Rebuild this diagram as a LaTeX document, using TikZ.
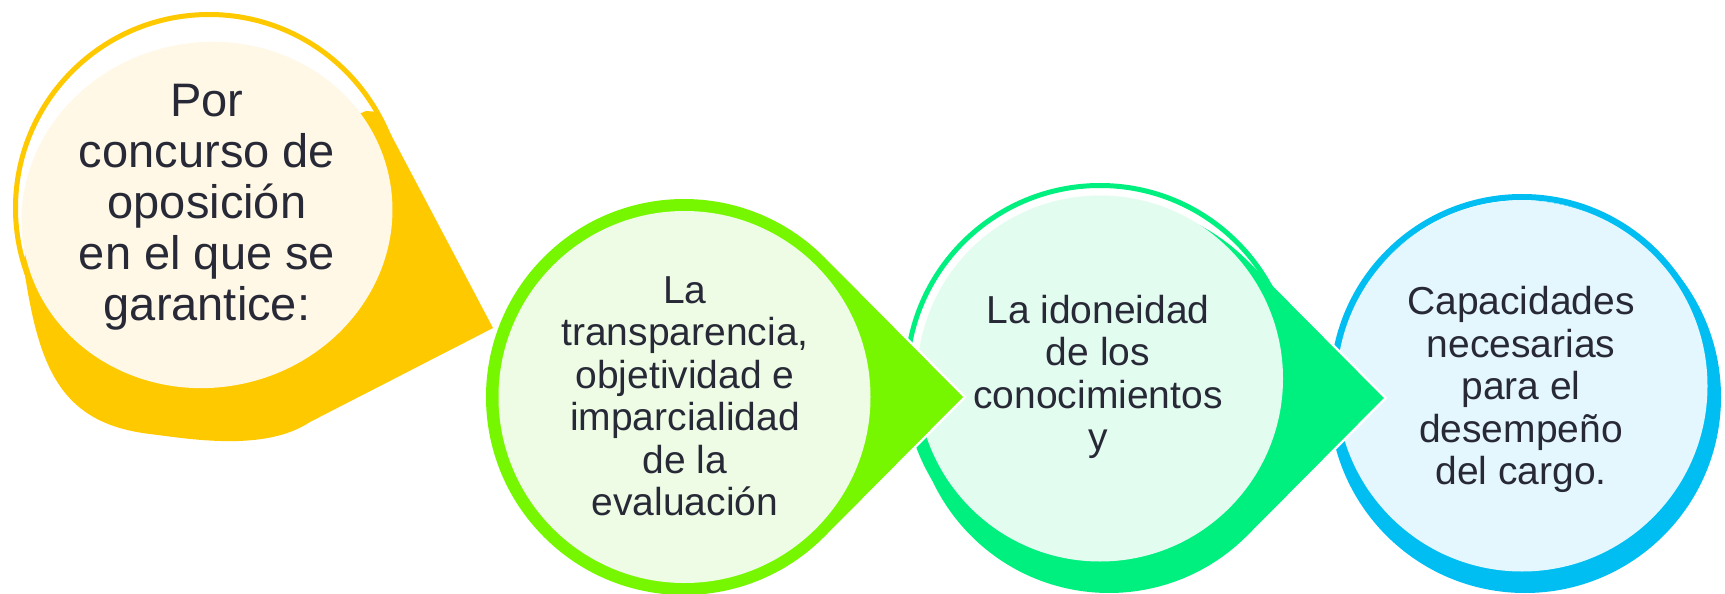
\documentclass[tikz,border=0pt]{standalone}
\usepackage{fontspec}
\setmainfont{Liberation Sans}
\definecolor{txtc}{RGB}{40,41,54}
\definecolor{cYel}{RGB}{255,201,0}
\definecolor{cYelL}{RGB}{255,248,230}
\definecolor{cLim}{RGB}{118,247,0}
\definecolor{cLimL}{RGB}{238,252,230}
\definecolor{cSpr}{RGB}{0,240,128}
\definecolor{cSprL}{RGB}{227,252,240}
\definecolor{cBlu}{RGB}{0,190,242}
\definecolor{cBluL}{RGB}{229,247,254}
\begin{document}
\begin{tikzpicture}[x=1pt,y=-1pt,
  lighttxt/.style={text=txtc, align=center, inner sep=0pt},
  smalltxt/.style={lighttxt, font=\fontsize{39}{42.5}\selectfont},
  bigtxt/.style={lighttxt, font=\fontsize{47}{51}\selectfont},
  tipline/.style={draw=white, line width=5, line join=miter},
]
\useasboundingbox (0,0) rectangle (1725,594);
\fill[white] (0,0) rectangle (1725,594);

% ---- element 4 (blue)
\fill[cBlu] (1525,397) circle[radius=196];
\draw[cBlu, line width=6] (1522,386) circle[radius=189];
\fill[cBluL] (1522,386) circle[radius=185.5];
\node[smalltxt] (t4) at (1521,389.6) {Capacidades\\necesarias\\para el\\desempeño\\del cargo.};

% ---- element 3 (spring green)
\coordinate (s-up) at (1246.9,260.1);
\coordinate (s-tip) at (1383.8,398);
\coordinate (s-lo) at (1246.9,535.9);
\fill[white] (1100,379) circle[radius=196];
\draw[tipline] (s-up) -- (s-tip) -- (s-lo);
\fill[cSpr] (s-up) arc[start angle=-45, end angle=-315, radius=195] -- (s-tip) -- cycle;
\draw[cSpr, line width=5] (1100,379) circle[radius=193.5];
\fill[cSprL] (1100,378.5) circle[radius=183];
\node[smalltxt] (t3) at (1098,377) {La idoneidad\\de los\\conocimientos\\y};

% ---- element 2 (lime)
\coordinate (g-up) at (824,257);
\coordinate (g-tip) at (963,397);
\coordinate (g-lo) at (824,537);
\draw[tipline] (g-up) -- (g-tip) -- (g-lo);
\fill[cLim] (g-up) arc[start angle=-45, end angle=-315, radius=198] -- (g-tip) -- cycle;
\fill[cLimL] (684.5,397) circle[radius=186];
\node[smalltxt] (t2) at (685,396.5) {La\\transparencia,\\objetividad e\\imparcialidad\\de la\\evaluación};

% ---- element 1 (yellow)
\coordinate (y-up) at (379,112);
\coordinate (y-tip) at (493,328);
\coordinate (y-lo) at (310,422);
\fill[white] (209,208) circle[radius=196];
\draw[tipline] (y-up) -- (y-tip) -- (y-lo);
\fill[cYel] (y-tip) -- (y-lo) .. controls (265,452) and (190,439) .. (150,434)
  .. controls (58,423) and (38,365) .. (23,262)
  -- (30,238) -- (60,150) -- (200,60) -- (345,120) -- (366,111) -- (y-up) -- cycle;
\draw[cYel, line width=5] (209,208) circle[radius=193.5];
\fill[cYelL, rotate around={12:(207,215)}] (207,215) ellipse[x radius=186, y radius=172.5];
\node[bigtxt] (t1) at (207,207) {Por\\concurso de\\oposición\\en el que se\\garantice:};
\end{tikzpicture}
\end{document}
